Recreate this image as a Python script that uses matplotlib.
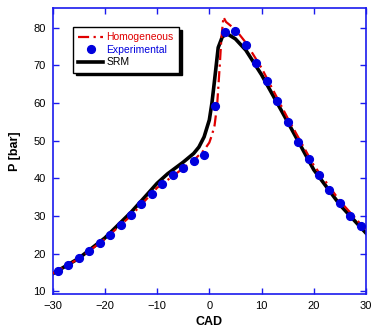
import matplotlib
matplotlib.use('Agg')
from matplotlib import pyplot as plt

plt.rcParams['font.family'] = ['Liberation Sans', 'DejaVu Sans']

# experimental points (odd CAD)
exp_cad = [-29, -27, -25, -23, -21, -19, -17, -15, -13, -11, -9, -7, -5, -3, -1,
           1, 3, 5, 7, 9, 11, 13, 15, 17, 19, 21, 23, 25, 27, 29]
exp_p = [15.4, 17.0, 18.8, 20.7, 22.9, 25.1, 27.6, 30.3, 33.1, 35.9, 38.5, 40.9, 42.8, 44.6, 46.2,
         59.3, 78.8, 79.0, 75.3, 70.6, 65.9, 60.4, 55.0, 49.7, 45.2, 40.9, 36.9, 33.4, 30.0, 27.4]

# SRM model
srm_cad = [-30, -25, -20, -15, -12, -10, -8, -5, -3, -2, -1, 0, 0.5, 1, 1.7, 2.5, 3.5, 5, 7, 10, 15, 20, 25, 30]
srm_p = [14.7, 18.8, 24.2, 31.0, 35.6, 38.7, 41.2, 44.3, 46.6, 48.3, 51.0, 55.5, 60.0, 66.0, 74.7, 77.6,
         78.3, 77.0, 74.0, 67.5, 55.0, 42.3, 33.0, 25.5]

# homogeneous model
hom_cad = [-30, -25, -20, -15, -10, -7, -5, -3, -1, 0, 0.5, 1, 1.5, 2.0, 2.3, 2.7, 3.2, 4, 5, 7, 10, 15, 20, 25, 30]
hom_p = [14.8, 18.7, 23.9, 30.1, 37.5, 40.6, 42.7, 44.8, 47.5, 49.5, 51.5, 54.0, 59.5, 70.0, 77.0, 82.8,
         81.5, 80.6, 79.5, 76.0, 69.3, 56.0, 43.5, 34.0, 26.3]

fig = plt.figure(figsize=(3.72, 3.35), dpi=100)
ax = fig.add_axes([0.1417, 0.121, 0.842, 0.854])

ax.plot(hom_cad, hom_p, color='#e00000', linestyle=(0, (5, 2, 1, 2)), linewidth=1.6,
        label='Homogeneous', zorder=3)
ax.plot(exp_cad, exp_p, 'o', color='#0000dd', markersize=5.6, label='Experimental', zorder=4)
ax.plot(srm_cad, srm_p, color='black', linewidth=2.6, label='SRM', zorder=2)

ax.set_xlim(-30, 30)
ax.set_ylim(9.2, 85.1)
ax.set_xticks([-30, -20, -10, 0, 10, 20, 30])
ax.set_yticks([10, 20, 30, 40, 50, 60, 70, 80])

for sp in ax.spines.values():
    sp.set_color('#1a1aee')
    sp.set_linewidth(1.2)
ax.tick_params(direction='in', length=4, width=1, color='#1a1aee', labelsize=8,
               top=True, right=True, pad=5)

ax.set_xlabel('CAD', fontsize=9, fontweight='bold', labelpad=3)
ax.set_ylabel('P [bar]', fontsize=9, fontweight='bold', labelpad=9)

leg = ax.legend(loc='upper left', bbox_to_anchor=(0.065, 0.935), fontsize=7.5,
                frameon=True, fancybox=False, shadow={'color': 'black', 'alpha': 1},
                edgecolor='black', framealpha=1, handlelength=2.4, handletextpad=0.3,
                borderpad=0.5, labelspacing=0.25, borderaxespad=0)
leg.get_frame().set_linewidth(1.0)
for txt, col in zip(leg.get_texts(), ['#e00000', '#0000dd', 'black']):
    txt.set_color(col)

fig.savefig('out.png', dpi=100)
